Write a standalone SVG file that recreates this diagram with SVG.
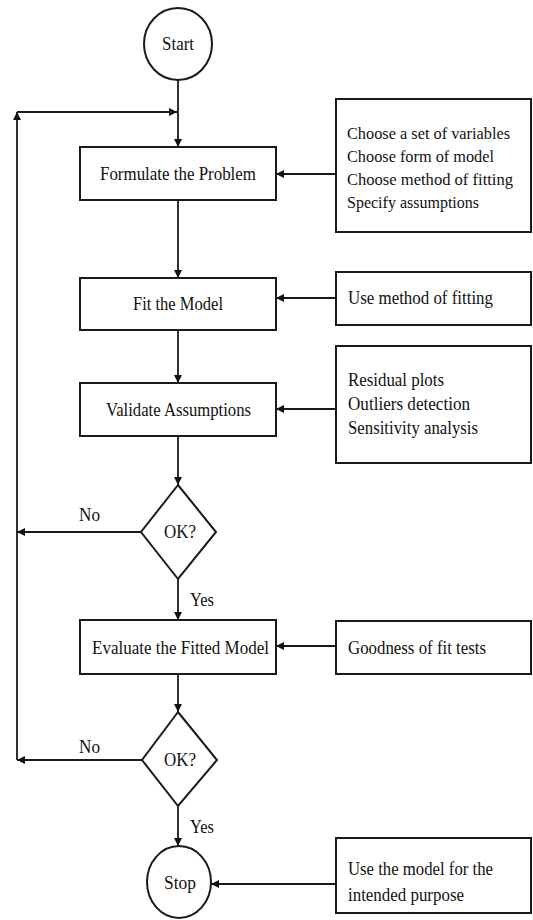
<svg xmlns="http://www.w3.org/2000/svg" width="533" height="920" viewBox="0 0 533 920">
<defs>
<marker id="ah" viewBox="0 0 10 10" refX="10" refY="5" markerWidth="9" markerHeight="8" markerUnits="userSpaceOnUse" orient="auto">
<path d="M0,0 L10,5 L0,10 z" fill="#111"/>
</marker>
<style>
.s{fill:#fff;stroke:#1a1a1a;stroke-width:2}
.c{fill:none;stroke:#1a1a1a;stroke-width:1.8}
.t{font-family:"Liberation Serif","Times New Roman",serif;font-size:19px;fill:#111}
.n{font-size:17.5px}
</style>
</defs>
<rect width="533" height="920" fill="#fff"/>
<g id="connectors">
<line class="c" x1="178" y1="80" x2="178" y2="147" marker-end="url(#ah)"/>
<line class="c" x1="17" y1="760" x2="17" y2="112" marker-end="url(#ah)"/>
<line class="c" x1="17" y1="112" x2="177" y2="112" marker-end="url(#ah)"/>
<line class="c" x1="178" y1="200" x2="178" y2="278" marker-end="url(#ah)"/>
<line class="c" x1="178" y1="330" x2="178" y2="383" marker-end="url(#ah)"/>
<line class="c" x1="178" y1="436" x2="178" y2="485" marker-end="url(#ah)"/>
<line class="c" x1="141" y1="532" x2="17" y2="532" marker-end="url(#ah)"/>
<line class="c" x1="178" y1="579" x2="178" y2="620" marker-end="url(#ah)"/>
<line class="c" x1="178" y1="674" x2="178" y2="712" marker-end="url(#ah)"/>
<line class="c" x1="142" y1="760" x2="17" y2="760" marker-end="url(#ah)"/>
<line class="c" x1="178" y1="806" x2="178" y2="846" marker-end="url(#ah)"/>
<line class="c" x1="336" y1="174" x2="276" y2="174" marker-end="url(#ah)"/>
<line class="c" x1="336" y1="298" x2="276" y2="298" marker-end="url(#ah)"/>
<line class="c" x1="336" y1="409" x2="276" y2="409" marker-end="url(#ah)"/>
<line class="c" x1="336" y1="646" x2="276" y2="646" marker-end="url(#ah)"/>
<line class="c" x1="336" y1="884" x2="211" y2="884" marker-end="url(#ah)"/>
<text class="t" x="79" y="521" textLength="21" lengthAdjust="spacingAndGlyphs">No</text>
<text class="t" x="190" y="606" textLength="24" lengthAdjust="spacingAndGlyphs">Yes</text>
<text class="t" x="79" y="753" textLength="21" lengthAdjust="spacingAndGlyphs">No</text>
<text class="t" x="190" y="833" textLength="24" lengthAdjust="spacingAndGlyphs">Yes</text>
</g>
<g id="start">
<ellipse class="s" cx="178" cy="44" rx="34" ry="36"/>
<text class="t" x="162" y="50" textLength="32" lengthAdjust="spacingAndGlyphs">Start</text>
</g>
<g id="formulate">
<rect class="s" x="80" y="147" width="196" height="53"/>
<text class="t" x="100" y="180" textLength="156" lengthAdjust="spacingAndGlyphs">Formulate the Problem</text>
</g>
<g id="note-formulate">
<rect class="s" x="336" y="99" width="195" height="133"/>
<text class="t n" x="347" y="139" textLength="163" lengthAdjust="spacingAndGlyphs">Choose a set of variables</text>
<text class="t n" x="347" y="162" textLength="147" lengthAdjust="spacingAndGlyphs">Choose form of model</text>
<text class="t n" x="347" y="185" textLength="166" lengthAdjust="spacingAndGlyphs">Choose method of fitting</text>
<text class="t n" x="347" y="208" textLength="132" lengthAdjust="spacingAndGlyphs">Specify assumptions</text>
</g>
<g id="fit">
<rect class="s" x="80" y="278" width="196" height="52"/>
<text class="t" x="133" y="310" textLength="90" lengthAdjust="spacingAndGlyphs">Fit the Model</text>
</g>
<g id="note-fit">
<rect class="s" x="336" y="272" width="195" height="53"/>
<text class="t" x="348" y="304" textLength="145" lengthAdjust="spacingAndGlyphs">Use method of fitting</text>
</g>
<g id="validate">
<rect class="s" x="80" y="383" width="196" height="53"/>
<text class="t" x="106" y="416" textLength="145" lengthAdjust="spacingAndGlyphs">Validate Assumptions</text>
</g>
<g id="note-validate">
<rect class="s" x="336" y="346" width="195" height="117"/>
<text class="t" x="348" y="386" textLength="96" lengthAdjust="spacingAndGlyphs">Residual plots</text>
<text class="t" x="348" y="410" textLength="122" lengthAdjust="spacingAndGlyphs">Outliers detection</text>
<text class="t" x="348" y="434" textLength="130" lengthAdjust="spacingAndGlyphs">Sensitivity analysis</text>
</g>
<g id="ok1">
<polygon class="s" points="178,485 216,532 178,579 141,532"/>
<text class="t" x="164" y="538" textLength="32" lengthAdjust="spacingAndGlyphs">OK?</text>
</g>
<g id="evaluate">
<rect class="s" x="80" y="620" width="196" height="54"/>
<text class="t" x="92" y="654" textLength="177" lengthAdjust="spacingAndGlyphs">Evaluate the Fitted Model</text>
</g>
<g id="note-evaluate">
<rect class="s" x="336" y="621" width="195" height="53"/>
<text class="t" x="348" y="654" textLength="138" lengthAdjust="spacingAndGlyphs">Goodness of fit tests</text>
</g>
<g id="ok2">
<polygon class="s" points="178,712 217,760 178,806 142,760"/>
<text class="t" x="164" y="766" textLength="32" lengthAdjust="spacingAndGlyphs">OK?</text>
</g>
<g id="stop">
<ellipse class="s" cx="179" cy="882" rx="32" ry="36"/>
<text class="t" x="164" y="889" textLength="32" lengthAdjust="spacingAndGlyphs">Stop</text>
</g>
<g id="note-stop">
<rect class="s" x="336" y="838" width="195" height="75"/>
<text class="t" x="348" y="875" textLength="145" lengthAdjust="spacingAndGlyphs">Use the model for the</text>
<text class="t" x="348" y="901" textLength="116" lengthAdjust="spacingAndGlyphs">intended purpose</text>
</g>
</svg>
